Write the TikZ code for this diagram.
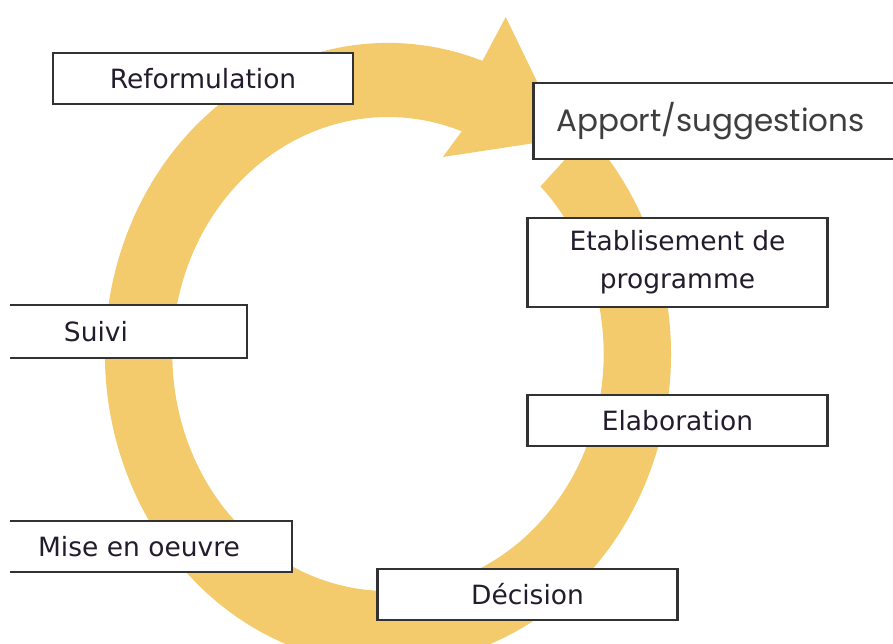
\documentclass[tikz,border=0pt]{standalone}
\usepackage{fontspec}
\setmainfont{DejaVu Sans}
\newfontfamily\apportfont{Poppins}

\definecolor{ringyellow}{RGB}{243,202,108}
\definecolor{boxline}{RGB}{50,50,50}
\definecolor{labeltext}{RGB}{35,28,45}
\definecolor{apporttext}{RGB}{62,62,62}

\tikzset{
  stage/.style={draw=boxline, line width=2.6pt, fill=white,
    minimum width=300pt, minimum height=51pt, inner sep=0pt,
    font=\fontsize{26.5}{38}\selectfont, text=labeltext, align=center},
}

\begin{document}
\begin{tikzpicture}[x=1pt, y=-1pt]

    % Fix the frame of the picture
    \useasboundingbox (0,0) rectangle (893,643);
    \clip (10,0) rectangle (893,643);

    % Define the centre of the ring
    \coordinate (O) at (388,354);

    % Draw the ring and its arrow head
    \begin{scope}[shift={(O)}, x=0.91pt, y=1pt]
        \fill[ringyellow] (70:311) arc (70:405:311) -- (405:237) arc (405:70:237) -- cycle;
        \fill[ringyellow] (69:361) -- (48:290) -- (73:206) -- (70:237) -- (70.5:311) -- cycle;
    \end{scope}

    % Add the boxes of the cycle
    \node[stage] (reform) at (203,78.5) {Reformulation};
    \node[stage, anchor=west, minimum height=76pt, text width=327pt, inner xsep=23pt,
          align=left, font=\apportfont\fontsize{31}{38}\selectfont, text=apporttext]
          (apport) at (532,121) {Apport/suggestions};
    \node[stage, minimum height=89pt] (etab) at (677.5,262.5) {Etablisement de\\programme};
    \node[stage] (elab) at (677.5,420.5) {Elaboration};
    \node[stage] (decision) at (527.5,594.5) {Décision};
    % The two left boxes run past the edge of the picture
    \node[stage, minimum width=306pt] (mise) at (139,546.5) {Mise en oeuvre};
    \node[stage, minimum width=302pt, minimum height=53pt] (suivi) at (96,331.5) {Suivi};

\end{tikzpicture}
\end{document}
